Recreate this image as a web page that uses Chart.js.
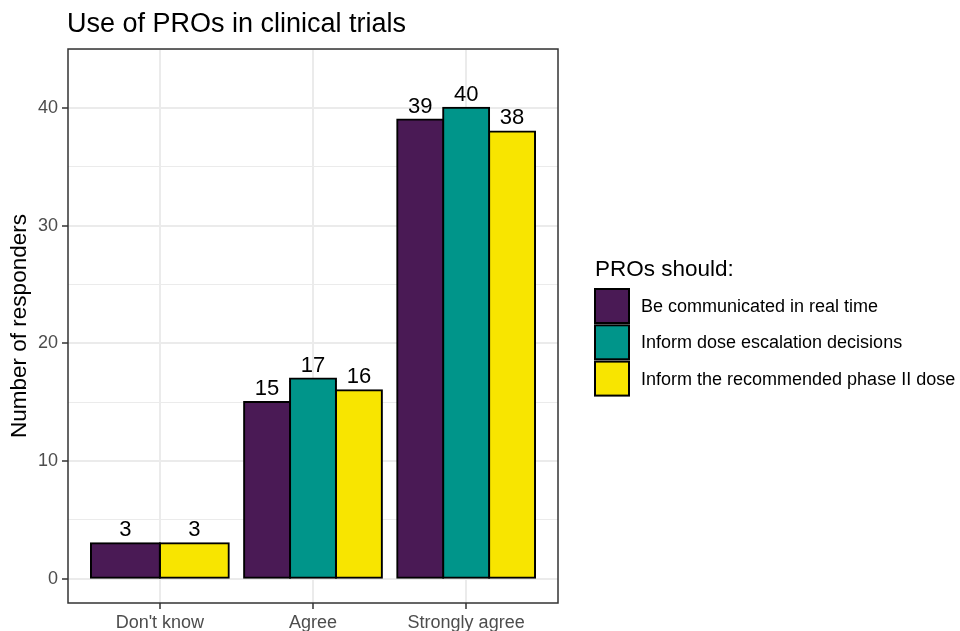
<!DOCTYPE html>
<html>
<head>
<meta charset="utf-8">
<title>Use of PROs in clinical trials</title>
<script src="https://cdn.jsdelivr.net/npm/chart.js@4.4.1/dist/chart.umd.min.js"></script>
<style>
  html, body { margin: 0; padding: 0; background: #fff; }
  #wrap { width: 960px; height: 631px; }
</style>
</head>
<body>
<div id="wrap"><canvas id="proChart"></canvas></div>
<script>
const categories = ["Don't know", "Agree", "Strongly agree"];
const seriesNames = [
  "Be communicated in real time",
  "Inform dose escalation decisions",
  "Inform the recommended phase II dose"
];
const realTime = [3, 15, 39];
const doseEscalation = [null, 17, 40];
const phaseTwoDose = [3, 16, 38];
const yTicks = [0, 10, 20, 30, 40];
const seriesColors = ['#4a1a55', '#00958a', '#f8e500'];

const chartTitle = 'Use of PROs in clinical trials';
const yTitle = 'Number of responders';
const legendTitle = 'PROs should:';

const FONT = "'Liberation Sans', Arial, Helvetica, sans-serif";
Chart.defaults.font.family = FONT;

const allSeries = [realTime, doseEscalation, phaseTwoDose];
// minor grid lines half way between the labelled ticks
const yGrid = yTicks.concat(yTicks.map(v => v + 5)).sort((a, b) => a - b);

function toPoints(values) {
  return values.map((v, i) => ({ x: i + 1, y: v }));
}

const ggExtras = {
  id: 'ggExtras',
  afterDatasetsDraw(chart) {
    const ctx = chart.ctx;
    const area = chart.chartArea;
    ctx.save();
    ctx.fillStyle = '#000';
    ctx.font = '22px ' + FONT;
    ctx.textAlign = 'center';
    ctx.textBaseline = 'alphabetic';
    chart.data.datasets.forEach((ds, di) => {
      chart.getDatasetMeta(di).data.forEach((bar, i) => {
        const v = ds.data[i].y;
        if (v === null) return;
        ctx.fillText(String(v), bar.x, bar.y - 7);
      });
    });
    ctx.strokeStyle = '#333';
    ctx.lineWidth = 1.5;
    ctx.strokeRect(area.left, area.top, area.right - area.left, area.bottom - area.top);
    ctx.restore();
  },
  afterDraw(chart) {
    const ctx = chart.ctx;
    const area = chart.chartArea;
    ctx.save();
    ctx.fillStyle = '#000';

    // plot title
    ctx.font = '27px ' + FONT;
    ctx.textAlign = 'left';
    ctx.textBaseline = 'alphabetic';
    ctx.fillText(chartTitle, area.left - 1, 32);

    // y axis title
    ctx.save();
    ctx.translate(20, (area.top + area.bottom) / 2);
    ctx.rotate(-Math.PI / 2);
    ctx.font = '22.5px ' + FONT;
    ctx.textAlign = 'center';
    ctx.textBaseline = 'middle';
    ctx.fillText(yTitle, 0, 0);
    ctx.restore();

    // legend
    const lx = area.right + 37;
    ctx.font = '22.5px ' + FONT;
    ctx.fillText(legendTitle, lx, 276);
    ctx.font = '18px ' + FONT;
    ctx.textBaseline = 'middle';
    seriesNames.forEach((name, i) => {
      const ky = 289 + i * 36.3;
      ctx.fillStyle = seriesColors[i];
      ctx.fillRect(lx, ky, 34, 34);
      ctx.strokeStyle = '#000';
      ctx.lineWidth = 2;
      ctx.strokeRect(lx, ky, 34, 34);
      ctx.fillStyle = '#000';
      ctx.fillText(name, lx + 46, ky + 18);
    });
    ctx.restore();
  }
};

new Chart(document.getElementById('proChart'), {
  type: 'bar',
  data: {
    datasets: seriesNames.map((name, i) => ({
      label: name,
      data: toPoints(allSeries[i]),
      backgroundColor: seriesColors[i],
      borderColor: '#000',
      borderWidth: 2,
      borderSkipped: false,
      inflateAmount: 1,
      skipNull: true,
      categoryPercentage: 0.9,
      barPercentage: 1
    }))
  },
  options: {
    responsive: true,
    maintainAspectRatio: false,
    animation: false,
    events: [],
    layout: { padding: { top: 49, right: 402, bottom: 0, left: 0 } },
    plugins: {
      legend: { display: false },
      title: { display: false },
      tooltip: { enabled: false }
    },
    scales: {
      x: {
        type: 'linear',
        min: 0.4,
        max: 3.6,
        offset: false,
        afterBuildTicks: s => { s.ticks = categories.map((c, i) => ({ value: i + 1 })); },
        afterFit: s => { s.height = 28; },
        ticks: {
          callback: (v, i) => categories[i],
          color: '#4d4d4d',
          font: { size: 18 },
          padding: 3,
          maxRotation: 0,
          autoSkip: false
        },
        grid: { offset: false, color: '#ebebeb', lineWidth: 2, tickColor: '#333', tickLength: 6, tickWidth: 1.5 },
        border: { display: false }
      },
      y: {
        min: -2.07,
        max: 45,
        afterBuildTicks: s => { s.ticks = yGrid.map(v => ({ value: v })); },
        afterFit: s => { s.width = 68; },
        ticks: {
          callback: v => (yTicks.includes(v) ? String(v) : ''),
          color: '#4d4d4d',
          font: { size: 18 },
          padding: 4,
          autoSkip: false
        },
        grid: {
          color: '#ebebeb',
          lineWidth: c => (yTicks.includes(c.tick && c.tick.value) ? 2 : 1),
          tickColor: c => (yTicks.includes(c.tick && c.tick.value) ? '#333' : 'rgba(0,0,0,0)'),
          tickLength: 6,
          tickWidth: 1.5
        },
        border: { display: false }
      }
    }
  },
  plugins: [ggExtras]
});
</script>
</body>
</html>
